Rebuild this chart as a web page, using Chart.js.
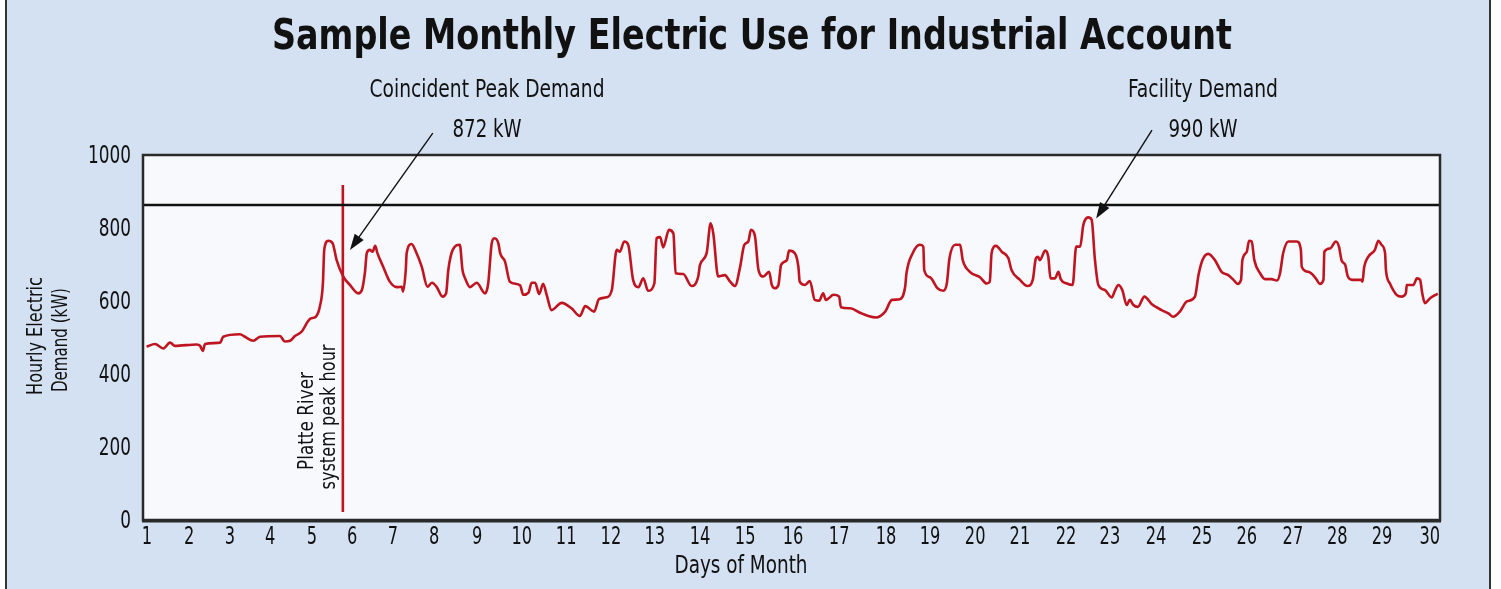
<!DOCTYPE html>
<html lang="en">
<head>
  <meta charset="UTF-8">
  <title>Sample Monthly Electric Use for Industrial Account</title>
  <script src="https://cdn.jsdelivr.net/npm/chart.js@4.4.7/dist/chart.umd.min.js"></script>
  <style>
    * { margin: 0; padding: 0; box-sizing: border-box; }
    body { background: #fff; }
    .wrap { width: 1501px; height: 589px; position: relative; }
  </style>
</head>
<body>
  <div class="wrap"><canvas id="usageChart"></canvas></div>

  <script>
    // hourly demand trace (day of month, kW)
    const hourDays = [
      0.99,1.18,1.37,1.52,1.63,2.12,2.20,2.26,2.31,2.65,2.72,3.10,3.21,3.40,3.55,4.00,4.11,4.23,4.34,4.49,
      4.68,4.81,4.90,4.97,5.00,5.09,5.19,5.28,5.43,5.58,5.77,5.85,5.92,5.96,6.03,6.09,6.15,6.20,6.33,6.48,
      6.64,6.75,6.78,6.84,6.86,6.97,7.07,7.20,7.33,7.43,7.54,7.67,7.75,7.80,7.90,8.06,8.12,8.18,
      8.29,8.44,8.63,8.70,8.78,8.84,8.93,8.97,9.08,9.19,9.42,9.49,9.61,9.68,9.76,9.85,9.94,10.02,10.13,10.36,
      10.58,10.77,10.89,11.09,11.20,11.37,11.49,11.60,11.67,11.77,11.86,11.97,12.09,12.20,12.31,12.45,12.50,12.58,12.65,12.78,
      12.88,12.93,13.10,13.29,13.44,13.48,13.63,13.72,13.78,13.89,14.04,14.16,14.27,14.38,14.48,14.57,14.63,14.72,14.80,14.91,
      15.04,15.10,15.17,15.25,15.31,15.44,15.49,
      15.62,15.70,15.73,15.85,15.96,16.07,16.17,16.26,16.32,16.38,16.49,16.62,16.66,16.87,17.09,17.28,17.45,17.66,17.81,17.99,
      18.11,18.14,18.28,18.44,18.52,18.54,18.67,18.84,18.97,19.05,19.11,19.24,19.35,19.41,19.57,19.80,19.95,20.02,20.06,20.16,
      20.29,20.44,20.51,20.70,20.87,20.99,21.06,21.11,21.15,21.27,21.34,21.39,21.49,21.57,21.62,21.76,21.89,21.97,22.06,22.13,
      22.24,22.32,22.39,22.47,22.62,22.77,
      22.85,22.92,23.01,23.11,23.18,23.26,23.36,23.51,23.67,23.90,24.05,24.16,24.31,24.46,24.65,24.73,24.82,24.95,25.10,25.25,
      25.40,25.52,25.61,25.69,25.72,25.82,25.87,25.93,25.99,26.12,26.23,26.38,26.50,26.57,26.64,26.76,26.95,27.04,27.06,27.21,
      27.36,27.47,27.55,27.57,27.70,27.83,27.90,27.96,28.04,28.10,28.20,28.40,28.43,28.47,28.56,28.71,28.79,28.86,28.94,28.96,
      29.05,29.20,29.32,29.41,29.43,29.58,29.66,29.73,29.78,29.84,29.95,30.08,30.13
    ];
    const demandKw = [
      475,482,470,486,477,481,477,463,482,486,502,509,502,491,502,504,489,491,504,516,
      551,557,584,648,740,765,758,712,667,644,621,630,680,731,740,735,751,731,694,653,
      638,639,626,685,731,756,735,694,639,650,638,612,621,685,740,754,685,662,
      638,650,621,648,758,772,758,731,708,653,643,617,623,650,650,619,647,617,575,595,
      580,559,586,571,605,610,630,740,735,763,754,658,638,662,628,648,772,775,747,795,
      785,676,674,641,667,699,731,813,785,667,671,653,641,690,754,763,795,778,685,667,
      680,644,635,644,699,712,738,
      731,694,653,644,655,603,601,621,603,607,617,612,583,580,568,559,555,571,603,605,
      639,676,731,754,749,685,665,635,628,648,717,754,754,712,680,665,648,653,731,751,
      735,717,685,658,641,658,717,721,712,738,721,662,662,680,660,648,644,749,749,808,
      829,822,717,644,630,610,
      630,644,630,589,603,589,584,612,592,575,566,557,571,598,612,671,712,729,712,680,
      671,658,647,658,712,735,765,763,712,676,660,660,656,676,731,763,763,740,694,680,
      665,647,658,735,744,763,749,711,699,667,658,658,653,694,721,740,765,754,731,685,
      648,617,612,621,644,644,662,658,621,594,607,617,620
    ];

    // day labels and where the printed labels sit along the axis
    const dayTicks = [1,2,3,4,5,6,7,8,9,10,11,12,13,14,15,16,17,18,19,20,21,22,23,24,25,26,27,28,29,30];
    const dayTickValues = [1.00,1.95,2.87,3.78,4.72,5.63,6.55,7.48,8.45,9.46,10.46,11.47,12.46,13.48,14.50,
                           15.58,16.62,17.68,18.67,19.69,20.70,21.74,22.73,23.77,24.81,25.82,26.86,27.86,28.87,29.95];
    const demandTicks = [0,200,400,600,800,1000];

    const peakHourDay = 5.42;      // Platte River system peak hour
    const peakHourSpan = [22, 918];
    const facilityLineKw = 863;

    const coincidentLabel = ['Coincident Peak Demand', '872 kW'];
    const facilityLabel = ['Facility Demand', '990 kW'];

    const FONT = "'DejaVu Sans Condensed', 'DejaVu Sans', sans-serif";
    const RED = '#bf1521';

    // condensed look: squash text horizontally to a given width
    function fitText(ctx, text, x, y, width, rot) {
      const w = ctx.measureText(text).width;
      ctx.save();
      ctx.translate(x, y);
      if (rot) ctx.rotate(rot);
      ctx.scale(width / w, 1);
      ctx.fillText(text, 0, 0);
      ctx.restore();
    }
    function squashText(ctx, text, x, y, k) {
      ctx.save();
      ctx.translate(x, y);
      ctx.scale(k, 1);
      ctx.fillText(text, 0, 0);
      ctx.restore();
    }

    function arrow(ctx, x1, y1, x2, y2) {
      const ang = Math.atan2(y2 - y1, x2 - x1);
      const len = 16, wid = 5.5;
      ctx.strokeStyle = '#111';
      ctx.fillStyle = '#111';
      ctx.lineWidth = 1.4;
      ctx.beginPath();
      ctx.moveTo(x1, y1);
      ctx.lineTo(x2 - Math.cos(ang) * len * 0.8, y2 - Math.sin(ang) * len * 0.8);
      ctx.stroke();
      ctx.beginPath();
      ctx.moveTo(x2, y2);
      ctx.lineTo(x2 - Math.cos(ang) * len - Math.sin(ang) * wid, y2 - Math.sin(ang) * len + Math.cos(ang) * wid);
      ctx.lineTo(x2 - Math.cos(ang) * len + Math.sin(ang) * wid, y2 - Math.sin(ang) * len - Math.cos(ang) * wid);
      ctx.closePath();
      ctx.fill();
    }

    const decor = {
      id: 'decor',
      beforeDraw(chart) {
        const { ctx, chartArea: a, width, height } = chart;
        ctx.save();
        ctx.fillStyle = '#fff';
        ctx.fillRect(0, 0, width, height);
        ctx.fillStyle = '#d4e1f2';
        ctx.fillRect(6, 0, 1484, height);
        ctx.fillStyle = '#333';
        ctx.fillRect(5, 0, 2, height);
        ctx.fillRect(1489, 0, 2, height);
        ctx.fillStyle = '#f8f9fd';
        ctx.fillRect(a.left, a.top, a.right - a.left, a.bottom - a.top);
        ctx.restore();
      },
      afterDatasetsDraw(chart) {
        const { ctx, chartArea: a, scales: { x, y } } = chart;
        ctx.save();
        // plot frame
        ctx.strokeStyle = '#2a2a2a';
        ctx.lineWidth = 2.5;
        ctx.strokeRect(a.left, a.top, a.right - a.left, a.bottom - a.top);
        ctx.fillStyle = '#2a2a2a';
        ctx.fillRect(a.left - 1, a.bottom - 1, a.right - a.left + 2, 3.5);

        ctx.fillStyle = '#111';
        ctx.textBaseline = 'middle';

        // tick labels
        ctx.font = '25px ' + FONT;
        const k = 43 / ctx.measureText('1000').width;
        ctx.textAlign = 'right';
        demandTicks.forEach(v => squashText(ctx, String(v), 131, y.getPixelForValue(v) + 1, k));
        ctx.textAlign = 'center';
        ctx.font = '24px ' + FONT;
        dayTicks.forEach((d, i) => squashText(ctx, String(d), x.getPixelForValue(dayTickValues[i]), 538, k));

        // title
        ctx.font = 'bold 42px ' + FONT;
        fitText(ctx, 'Sample Monthly Electric Use for Industrial Account', 752, 38, 960);

        // callouts
        ctx.font = '24px ' + FONT;
        fitText(ctx, coincidentLabel[0], 487, 91, 235);
        fitText(ctx, coincidentLabel[1], 487, 131, 69);
        fitText(ctx, facilityLabel[0], 1203, 91, 150);
        fitText(ctx, facilityLabel[1], 1203, 131, 69);
        arrow(ctx, x.getPixelForValue(7.45), y.getPixelForValue(1060), x.getPixelForValue(5.58), y.getPixelForValue(740));
        arrow(ctx, x.getPixelForValue(23.68), y.getPixelForValue(1068), x.getPixelForValue(22.42), y.getPixelForValue(826));

        // axis titles
        ctx.fillStyle = '#111';
        fitText(ctx, 'Days of Month', 741, 567, 133);
        ctx.font = '21px ' + FONT;
        fitText(ctx, 'Hourly Electric', 37, 336, 118, -Math.PI / 2);
        fitText(ctx, 'Demand (kW)', 62, 340, 104, -Math.PI / 2);

        const px = x.getPixelForValue(peakHourDay);
        fitText(ctx, 'Platte River', px - 35, 421, 98, -Math.PI / 2);
        fitText(ctx, 'system peak hour', px - 13, 417, 145, -Math.PI / 2);
        ctx.restore();
      }
    };

    new Chart(document.getElementById('usageChart'), {
      type: 'line',
      data: {
        datasets: [
          {
            label: 'Hourly demand',
            data: hourDays.map((d, i) => ({ x: d, y: demandKw[i] })),
            borderColor: RED,
            borderWidth: 2.6,
            pointRadius: 0,
            cubicInterpolationMode: 'monotone',
            fill: false
          },
          {
            label: 'Facility demand',
            data: [{ x: 0.91, y: facilityLineKw }, { x: 30.18, y: facilityLineKw }],
            borderColor: '#111',
            borderWidth: 2.6,
            pointRadius: 0
          },
          {
            label: 'System peak hour',
            data: [{ x: peakHourDay, y: peakHourSpan[0] }, { x: peakHourDay, y: peakHourSpan[1] }],
            borderColor: RED,
            borderWidth: 2.6,
            pointRadius: 0
          }
        ]
      },
      options: {
        responsive: true,
        maintainAspectRatio: false,
        animation: false,
        events: [],
        layout: { padding: { top: 155, right: 61, left: 0, bottom: 0 } },
        plugins: { legend: { display: false }, tooltip: { enabled: false } },
        scales: {
          x: {
            type: 'linear',
            min: 0.91,
            max: 30.18,
            afterBuildTicks: s => { s.ticks = dayTickValues.map(v => ({ value: v })); },
            afterFit: s => { s.height = 69; },
            grid: { display: false, drawTicks: false },
            border: { display: false },
            ticks: { display: false }
          },
          y: {
            min: 0,
            max: 1000,
            afterBuildTicks: s => { s.ticks = demandTicks.map(v => ({ value: v })); },
            afterFit: s => { s.width = 143; },
            grid: { display: false, drawTicks: false },
            border: { display: false },
            ticks: { display: false }
          }
        }
      },
      plugins: [decor]
    });
  </script>
</body>
</html>
